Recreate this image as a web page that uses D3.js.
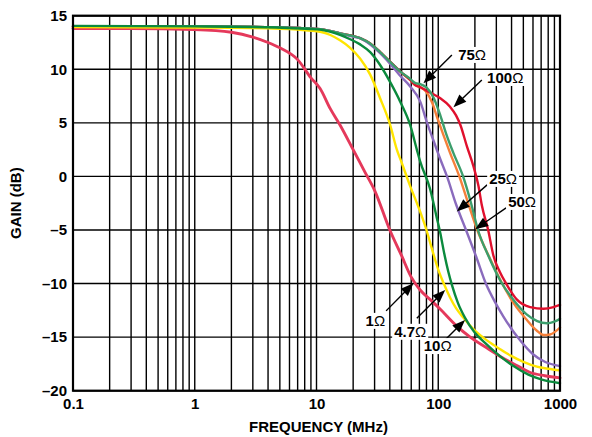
<!DOCTYPE html>
<html><head><meta charset="utf-8">
<script src="https://cdn.jsdelivr.net/npm/d3@7"></script>
<style>
html,body{margin:0;padding:0;background:#fff;}
svg text{font-family:"Liberation Sans",Arial,sans-serif;font-weight:bold;fill:#000;}
</style></head>
<body><svg id="c" width="592" height="437"></svg>
<script>
// ---- data (frequency MHz, gain dB) ----
const xTicks = [0.1, 1, 10, 100, 1000];
const yTicks = [15, 10, 5, 0, -5, -10, -15, -20];
const seriesNames = ["1", "4.7", "10", "25", "50", "75", "100"];

const r1 = [[0.1,13.8],[0.3,13.8],[1,13.7],[2,13.45],[3,13.0],[4,12.5],[5,12.0],[7,10.9],[9,9.2],[10.7,8.2],[13,6.3],[15.6,4.8],[20,2.5],[25,0.4],[30,-1.3],[40,-5.0],[50,-7.4],[60,-9.4],[71,-10.6],[86,-11.5],[104,-12.4],[140,-13.9],[183,-15.0],[250,-16.0],[323,-16.8],[450,-17.7],[570,-18.3],[750,-18.6],[1000,-18.8]];
const r47 = [[0.1,13.95],[1,13.9],[3,13.85],[7,13.7],[10.7,13.5],[13,13.2],[15.6,12.7],[18.9,12.0],[22.8,11.0],[27.6,9.5],[33.3,7.3],[40.3,4.8],[45.7,2.5],[50,1.3],[58.8,-0.9],[70,-3.1],[80,-5.0],[90,-7.0],[100,-8.7],[111,-10.0],[125,-11.3],[140,-12.3],[161,-13.2],[200,-14.4],[251,-15.3],[320,-16.1],[390,-16.7],[500,-17.3],[646,-17.75],[800,-17.95],[1000,-18.1]];
const r10 = [[0.1,14.05],[1,14.0],[3,13.95],[7.3,13.8],[10.7,13.7],[15.6,13.2],[18.9,12.8],[23,12.3],[27.6,11.6],[33.3,10.4],[40.3,8.8],[48.6,7.0],[58.8,4.8],[66.7,2.5],[71,1.4],[85.8,-1.2],[97,-3.8],[104,-5.3],[112,-7.2],[121,-8.9],[130,-10.2],[145,-11.8],[166,-13.2],[200,-14.6],[251,-15.7],[323,-16.8],[415,-17.7],[550,-18.5],[700,-18.95],[1000,-19.3]];
const r25 = [[0.1,14.0],[1,14.0],[7.3,13.85],[10.7,13.75],[15.6,13.35],[18.9,13.1],[22.8,12.9],[27.6,12.3],[33.3,11.5],[40.3,10.5],[48.6,9.4],[58.8,8.4],[71,7.0],[81,5.0],[91,3.4],[104,1.6],[118,0],[140,-2.6],[169,-5.0],[205,-7.5],[246,-10.0],[295,-11.8],[344,-13.1],[470,-15.3],[600,-16.6],[750,-17.3],[1000,-17.7]];
const r50 = [[0.1,14.0],[1,14.0],[7.3,13.85],[10.7,13.75],[15.6,13.35],[22.8,12.9],[27.6,12.4],[33.3,11.6],[40.3,10.7],[48.6,9.8],[58.8,9.0],[65,8.5],[72,8.3],[79.6,7.9],[89,6.9],[98,5.5],[110,3.9],[125,2.2],[149,0],[176,-2.5],[209,-5.0],[262,-7.5],[335,-10.0],[420,-11.9],[535,-13.4],[646,-14.4],[733,-14.8],[830,-14.75],[1000,-14.1]];
const r75 = [[0.1,14.0],[1,14.0],[7.3,13.85],[10.7,13.75],[15.6,13.35],[22.8,12.9],[27.6,12.4],[33.3,11.6],[40.3,10.7],[48.6,9.8],[58.8,9.1],[65,8.7],[72,8.6],[80,8.3],[92,7.3],[104,5.7],[116,4.0],[133,2.2],[160,0],[186,-2.5],[212,-5.0],[260,-7.5],[330,-9.9],[420,-11.6],[535,-12.9],[650,-13.5],[780,-13.7],[900,-13.55],[1000,-13.3]];
const r100 = [[0.1,14.0],[1,14.0],[7.3,13.85],[10.7,13.75],[15.6,13.35],[22.8,12.9],[27.6,12.4],[33.3,11.6],[40.3,10.7],[48.6,9.8],[58.8,9.0],[65,8.5],[72,8.3],[80,8.0],[90,7.7],[104,7.3],[125,6.5],[140,5.7],[152,4.8],[172,2.8],[195,0.9],[214,-0.9],[228,-2.7],[257,-5.0],[284,-7.4],[320,-8.9],[361,-10.0],[443,-11.5],[569,-12.2],[733,-12.35],[885,-12.2],[1000,-12.0]];

// annotation anchors in data space: arrow tip, arrow tail, text position
const annotations = [
  {name:"75",  tip:[75.6,8.69],   tail:[129.4,11.33], text:[145.8,10.87], anchor:"start"},
  {name:"100", tip:[133.4,6.46],  tail:[228,9.0],     text:[252,8.72],    anchor:"start"},
  {name:"25",  tip:[142,-3.28],   tail:[252,-0.79],   text:[262,-0.70],   anchor:"start"},
  {name:"50",  tip:[201,-4.93],   tail:[361,-2.94],   text:[375,-2.85],   anchor:"start"},
  {name:"1",   tip:[62.6,-9.96],  tail:[37.3,-12.55], text:[36.6,-13.95], anchor:"end"},
  {name:"4.7", tip:[114,-10.59],  tail:[66.7,-13.23], text:[58.8,-14.97], anchor:"middle"},
  {name:"10",  tip:[166,-13.39],  tail:[100.4,-15.88],text:[98.9,-16.3],  anchor:"middle"}
];

// ---- styles ----
const seriesData = {"1":r1,"4.7":r47,"10":r10,"25":r25,"50":r50,"75":r75,"100":r100};
const colors = {"1":"#e5395b","4.7":"#ffe500","10":"#0b8a3d","25":"#8a6bbd","50":"#f5803a","75":"#3c9e6c","100":"#e0102d"};
const drawOrder = ["1","50","100","25","75","4.7","10"];

const svg = d3.select("#c");
const L = 73, R = 560, T = 15.7, B = 390.7;
const x = d3.scaleLog().domain([0.1, 1000]).range([L, R]);
const y = d3.scaleLinear().domain([-20, 15]).range([B, T]);

// grid
const minor = [];
for (let d = 0.1; d < 1000; d *= 10) for (let k = 1; k <= 10; k++) minor.push(+(d * k).toPrecision(3));
const uniq = Array.from(new Set(minor)).filter(v => v >= 0.1 && v <= 1000);
svg.append("g").selectAll("line").data(uniq).join("line")
  .attr("x1", d => x(d)).attr("x2", d => x(d)).attr("y1", T).attr("y2", B)
  .attr("stroke", "#000").attr("stroke-width", 1.4);
svg.append("g").selectAll("line").data(yTicks).join("line")
  .attr("x1", L).attr("x2", R).attr("y1", d => y(d)).attr("y2", d => y(d))
  .attr("stroke", "#000").attr("stroke-width", 1.4);

// curves
const line = d3.line().x(d => x(d[0])).y(d => y(d[1])).curve(d3.curveMonotoneX);
const gC = svg.append("g");
drawOrder.forEach(n => {
  gC.append("path").attr("d", line(seriesData[n])).attr("fill", "none")
    .attr("stroke", colors[n]).attr("stroke-width", n === "1" ? 2.9 : 2.4)
    .attr("stroke-linejoin", "round").attr("stroke-linecap", "round");
});

// border
svg.append("rect").attr("x", L).attr("y", T).attr("width", R - L).attr("height", B - T)
  .attr("fill", "none").attr("stroke", "#000").attr("stroke-width", 2.2);

// axes labels
const yAxis = d3.axisLeft(y).tickValues(yTicks).tickSize(0).tickPadding(6)
  .tickFormat(d => d < 0 ? "\u2013" + Math.abs(d) : String(d));
const gy = svg.append("g").attr("transform", `translate(${L},0)`).call(yAxis);
gy.select(".domain").remove();
gy.selectAll("text").attr("font-size", 15).style("font-family", '"Liberation Sans",Arial,sans-serif').style("font-weight", "bold");

const xAxis = d3.axisBottom(x).tickValues(xTicks).tickSize(0).tickPadding(8)
  .tickFormat(d => String(d));
const gx = svg.append("g").attr("transform", `translate(0,${B})`).call(xAxis);
gx.select(".domain").remove();
gx.selectAll("text").attr("font-size", 15).style("font-family", '"Liberation Sans",Arial,sans-serif').style("font-weight", "bold");

svg.append("text").attr("x", (L + R) / 2 + 2).attr("y", 432).attr("text-anchor", "middle")
  .attr("font-size", 15).text("FREQUENCY (MHz)");
svg.append("text").attr("transform", `translate(21,${(T + B) / 2}) rotate(-90)`).attr("text-anchor", "middle")
  .attr("font-size", 15).text("GAIN (dB)");

// annotations
const gA = svg.append("g");
annotations.forEach(a => {
  const tx = x(a.tip[0]), ty = y(a.tip[1]);
  const sx = x(a.tail[0]), sy = y(a.tail[1]);
  const dx = tx - sx, dy = ty - sy, len = Math.hypot(dx, dy);
  const ux = dx / len, uy = dy / len;
  const hl = 13, hw = 5;
  const bx = tx - ux * hl, by = ty - uy * hl;
  gA.append("line").attr("x1", sx).attr("y1", sy).attr("x2", bx + ux * 2).attr("y2", by + uy * 2)
    .attr("stroke", "#000").attr("stroke-width", 1.4);
  gA.append("path").attr("d", `M${tx},${ty}L${bx - uy * hw},${by + ux * hw}L${bx + uy * hw},${by - ux * hw}Z`)
    .attr("fill", "#000");
  const t = gA.append("text").attr("x", x(a.text[0])).attr("y", y(a.text[1]))
    .attr("text-anchor", a.anchor).attr("font-size", 15);
  t.append("tspan").text(a.name);
  t.append("tspan").attr("font-weight", "normal").style("font-weight", "normal").text("\u03A9");
  const bb = t.node().getBBox();
  gA.insert("rect", () => t.node()).attr("x", bb.x - 2).attr("y", bb.y + 1).attr("width", bb.width + 4).attr("height", bb.height - 1)
    .attr("fill", "#fff");
});
</script></body></html>
